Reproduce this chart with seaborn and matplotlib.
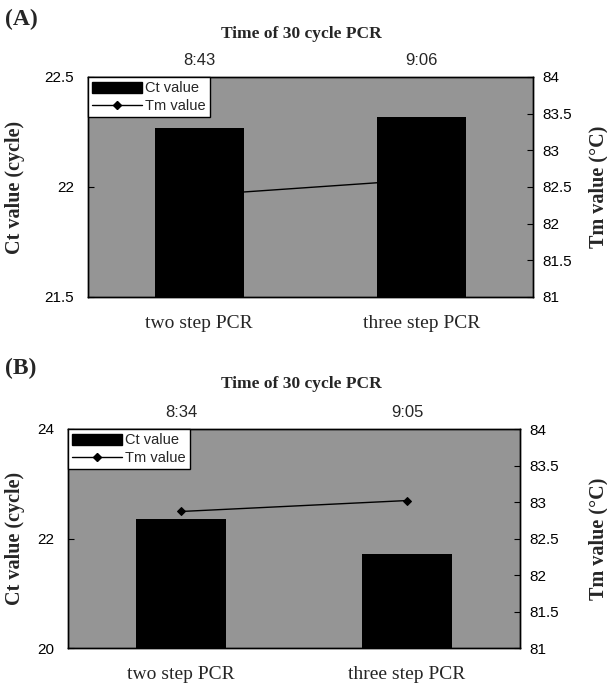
import numpy as np
import pandas as pd
import matplotlib
matplotlib.use("Agg")
import matplotlib.pyplot as plt
from matplotlib.patches import Patch
from matplotlib.lines import Line2D
import seaborn as sns

# ---------------- data ----------------
categories = ["two step PCR", "three step PCR"]
ct_A = [22.27, 22.32]
tm_A = [82.39, 82.60]
time_A = ["8:43", "9:06"]
ct_B = [22.36, 21.71]
tm_B = [82.87, 83.02]
time_B = ["8:34", "9:05"]
ct_ticks_A = [21.5, 22, 22.5]
ct_ticks_B = [20, 22, 24]
tm_ticks = [81, 81.5, 82, 82.5, 83, 83.5, 84]

sns.set_theme(style="white")
plt.rcParams["font.family"] = ["Liberation Sans", "DejaVu Sans"]

SERIF = ["Liberation Serif", "DejaVu Serif"]
BG = "#959595"

W, H = 607, 685
fig = plt.figure(figsize=(W / 100, H / 100), dpi=100)
fig.patch.set_facecolor("white")


def frac_box(l, r, t, b):
    return [l / W, 1 - b / H, (r - l) / W, (b - t) / H]


def panel(box, ct, tm, times, ct_ticks, letter, letter_y, title_y, ylab_x, tmlab_x, xpad):
    ax = fig.add_axes(box)
    ax2 = ax.twinx()
    ax.set_zorder(ax2.get_zorder() + 1)
    ax.patch.set_visible(False)
    ax2.patch.set_visible(True)
    ax2.patch.set_facecolor(BG)

    df = pd.DataFrame({"cat": categories, "ct": ct, "tm": tm})
    sns.barplot(data=df, x="cat", y="ct", color="black", saturation=1,
                width=0.4, ax=ax, edgecolor="none")
    sns.pointplot(data=df, x="cat", y="tm", color="black", ax=ax2,
                  marker="D", markersize=4, linewidth=1)

    ax.set_ylim(ct_ticks[0], ct_ticks[-1])
    ax.set_yticks(ct_ticks)
    ax.set_yticklabels([f"{v:g}" for v in ct_ticks])
    ax2.set_ylim(tm_ticks[0], tm_ticks[-1])
    ax2.set_yticks(tm_ticks)
    ax2.set_yticklabels([f"{v:g}" for v in tm_ticks])
    ax.set_xlim(-0.5, len(categories) - 0.5)

    ax.tick_params(axis="y", direction="in", length=4, width=0.8, pad=10,
                   labelsize=11, left=True, colors="black")
    ax2.tick_params(axis="y", direction="in", length=4, width=0.8, pad=7,
                    labelsize=11, right=True, colors="black")
    ax.tick_params(axis="x", length=0, pad=xpad)
    ax.set_xticks(range(len(categories)))
    ax.set_xticklabels(categories, fontsize=14, family=SERIF)
    ax.set_xlabel("")
    ax2.set_xlabel("")

    for a in (ax, ax2):
        for s in a.spines.values():
            s.set_color("black")
            s.set_linewidth(1)

    ax.set_ylabel("Ct value (cycle)", fontsize=14.5, fontweight="bold", family=SERIF)
    ax.yaxis.set_label_coords(ylab_x, 0.5)
    ax2.set_ylabel("Tm value (°C)", fontsize=14.5, fontweight="bold", family=SERIF,
                   rotation=90)
    ax2.yaxis.set_label_coords(tmlab_x, 0.5)

    # times above bars
    for i, t in enumerate(times):
        ax.annotate(t, xy=(i, 1), xycoords=("data", "axes fraction"),
                    xytext=(0, 12), textcoords="offset points",
                    ha="center", va="center", fontsize=12)

    handles = [Patch(facecolor="black", edgecolor="black"),
               Line2D([0], [0], color="black", lw=1, marker="D", markersize=4)]
    leg = ax.legend(handles, ["Ct value", "Tm value"], loc="upper left",
                    bbox_to_anchor=(0, 1), borderaxespad=0, frameon=True,
                    fancybox=False, framealpha=1, edgecolor="black",
                    fontsize=10.5, handlelength=3.4, handleheight=0.8,
                    handletextpad=0.2, borderpad=0.3, labelspacing=0.25)
    leg.get_frame().set_linewidth(1)

    fig.text(5 / W, 1 - letter_y / H, letter, fontsize=17, fontweight="bold",
             family=SERIF, ha="left", va="center")
    fig.text(301 / W, 1 - title_y / H, "Time of 30 cycle PCR", fontsize=12.5,
             fontweight="bold", family=SERIF, ha="center", va="center")
    return ax, ax2


panel(frac_box(88, 533, 77, 297), ct_A, tm_A, time_A, ct_ticks_A,
      "(A)", 19, 34, (25 - 88) / 445, (588 - 88) / 445, 13)
panel(frac_box(68, 520, 429, 648), ct_B, tm_B, time_B, ct_ticks_B,
      "(B)", 368, 384, (25 - 68) / 452, (588 - 68) / 452, 13)

fig.savefig("out.png", dpi=100, facecolor="white")
